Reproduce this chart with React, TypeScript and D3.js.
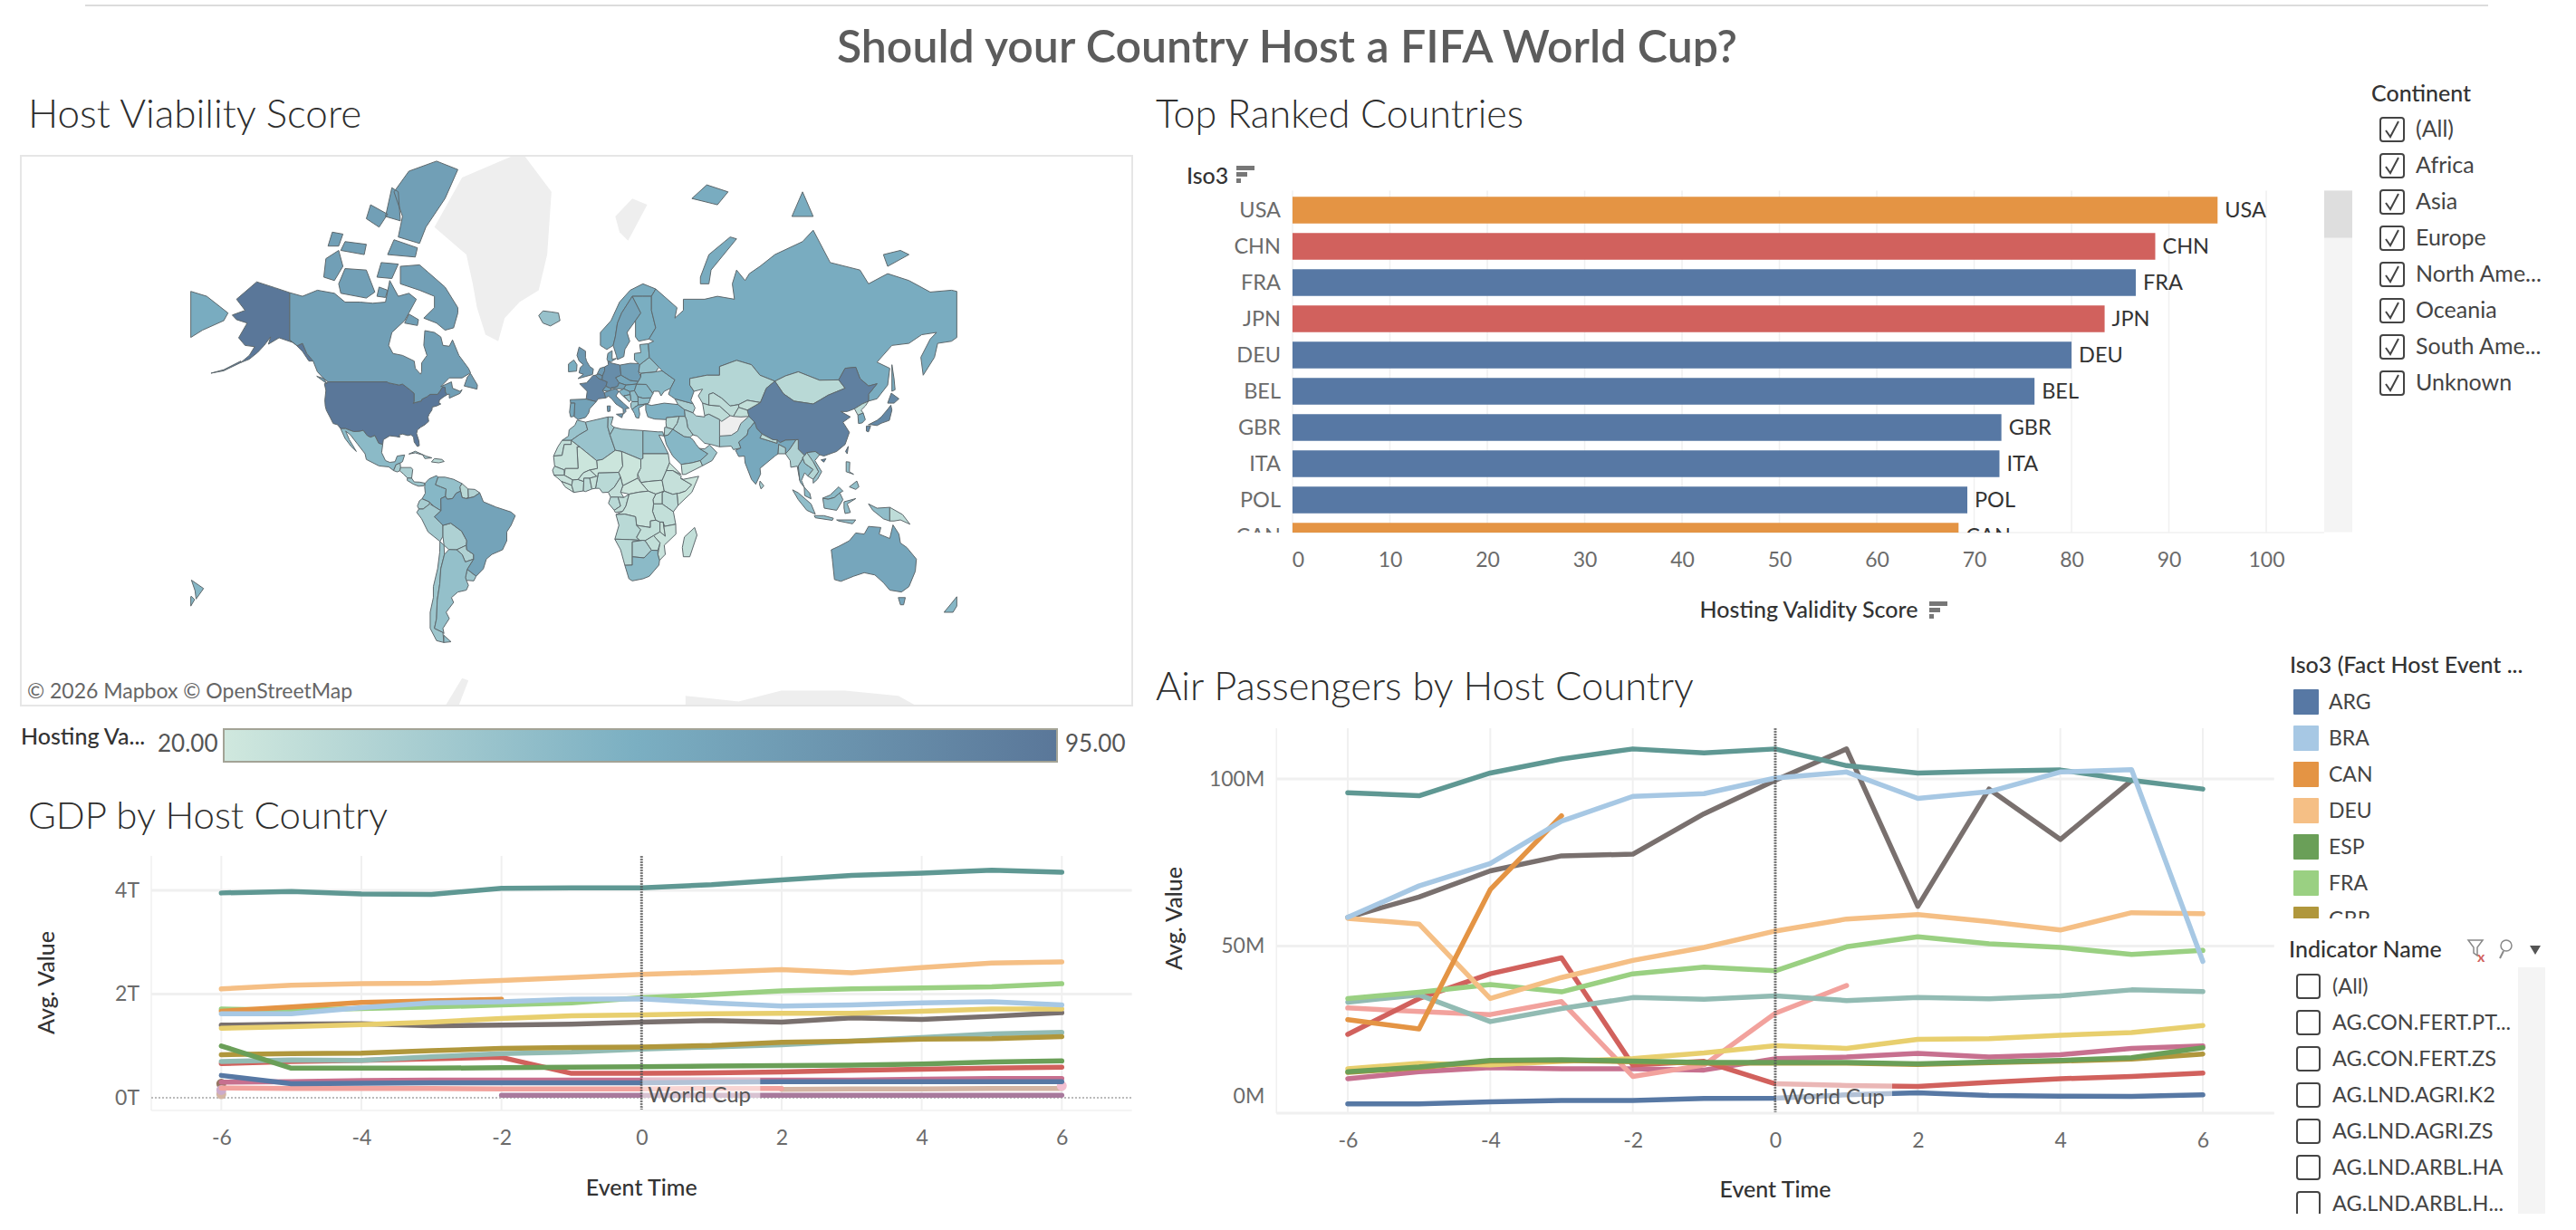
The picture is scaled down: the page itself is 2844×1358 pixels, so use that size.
import { useRef, useEffect } from 'react';
import * as d3 from 'd3';

const FONT = 'Lato, "Open Sans", sans-serif';

// ---- series data (Event Time -6..6) ----
const eventTimes = [-6, -5, -4, -3, -2, -1, 0, 1, 2, 3, 4, 5, 6];
const isoCodes = ['ARG', 'BRA', 'CAN', 'DEU', 'ESP', 'FRA', 'GBR', 'ITA', 'JPN', 'KOR', 'MEX', 'POL', 'RUS', 'ZAF', 'CHE', 'QAT', 'URY', 'CHL', 'SWE'];
const palette = ['#5778a4', '#a7c8e4', '#e49444', '#f5bf85', '#6a9f58', '#9ad082', '#b0973c', '#e8cf6e', '#5f9893', '#92bbb3', '#d1615d', '#f2a29d', '#79706e', '#c7708f', '#f2bfd0', '#a87a9c', '#ccabca', '#967662', '#d4b5a3'];
const _ = null;

const gdpSeries: Record<string, (number | null)[]> = {
  ARG: [0.43, 0.27, 0.28, 0.29, 0.29, 0.29, 0.29, 0.30, 0.31, 0.31, 0.31, 0.31, 0.31],
  BRA: [1.62, 1.62, 1.74, 1.83, 1.85, 1.90, 1.91, 1.83, 1.77, 1.79, 1.83, 1.85, 1.79],
  CAN: [1.67, 1.75, 1.84, 1.87, 1.90, _, _, _, _, _, _, _, _],
  DEU: [2.10, 2.17, 2.20, 2.21, 2.26, 2.32, 2.38, 2.42, 2.47, 2.41, 2.51, 2.60, 2.62],
  ESP: [1.00, 0.57, 0.57, 0.57, 0.58, 0.59, 0.60, 0.61, 0.62, 0.63, 0.65, 0.69, 0.71],
  FRA: [1.71, 1.69, 1.72, 1.75, 1.79, 1.83, 1.93, 1.99, 2.06, 2.10, 2.12, 2.14, 2.20],
  GBR: [0.83, 0.85, 0.86, 0.91, 0.95, 0.97, 0.98, 1.01, 1.07, 1.09, 1.13, 1.14, 1.18],
  ITA: [1.34, 1.37, 1.41, 1.46, 1.53, 1.58, 1.60, 1.62, 1.63, 1.63, 1.67, 1.71, 1.71],
  JPN: [3.95, 3.98, 3.93, 3.92, 4.04, 4.05, 4.05, 4.11, 4.20, 4.29, 4.33, 4.39, 4.35],
  KOR: [0.70, 0.73, 0.72, 0.79, 0.85, 0.88, 0.94, 0.98, 1.02, 1.09, 1.16, 1.23, 1.26],
  MEX: [0.66, 0.70, 0.72, 0.75, 0.78, 0.47, 0.47, 0.48, 0.50, 0.53, 0.55, 0.57, 0.59],
  POL: [0.19, 0.18, 0.18, 0.18, 0.17, 0.17, 0.17, 0.18, 0.18, _, _, _, _],
  RUS: [1.40, 1.42, 1.43, 1.39, 1.40, 1.42, 1.46, 1.49, 1.46, 1.54, 1.51, 1.57, 1.64],
  ZAF: [0.30, 0.31, 0.33, 0.34, 0.34, 0.34, 0.34, 0.34, 0.34, 0.34, 0.36, 0.37, 0.37],
  CHE: [_, _, _, _, _, _, _, _, _, _, _, _, 0.23],
  QAT: [_, _, _, _, 0.05, 0.05, 0.05, 0.05, 0.05, 0.05, 0.05, 0.05, 0.05],
  URY: [0.15, _, _, _, _, _, _, _, _, _, _, _, _],
  CHL: [0.27, _, _, _, _, _, _, _, _, _, _, _, _],
  SWE: [0.07, _, _, _, _, _, _, _, 0.16, 0.17, 0.17, 0.18, 0.18],
};

const airSeries: Record<string, (number | null)[]> = {
  ARG: [2.8, 2.8, 3.4, 3.8, 3.8, 4.4, 4.5, 5.5, 6.1, 5.3, 5.1, 5.0, 5.5],
  BRA: [58.6, 68, 74.7, 87.4, 94.8, 95.6, 100.3, 102.1, 94.2, 96.2, 102.1, 102.8, 45.4],
  CAN: [28, 25.2, 66.9, 89, _, _, _, _, _, _, _, _, _],
  DEU: [58.3, 56.6, 34.3, 40.6, 45.7, 49.6, 54.5, 58.1, 59.4, 57.3, 54.8, 60, 59.7],
  ESP: [12.4, 13.8, 15.8, 16, 15.6, 15.2, 15.2, 15.2, 14.8, 15.3, 15.8, 16.6, 19.6],
  FRA: [34.3, 36.2, 38.5, 36.3, 41.7, 43.7, 42.6, 49.8, 52.8, 50.7, 49.6, 47.5, 48.7],
  GBR: [12.2, 13.6, 15.6, 15.8, 15.4, 15.0, 15.0, 15, 14.6, 15.1, 15.6, 16.2, 17.7],
  ITA: [13.3, 14.9, 14.4, 15.5, 16.3, 18, 20.2, 19.4, 22.1, 22.3, 23.3, 24.1, 26.2],
  JPN: [95.9, 95, 101.8, 106, 109, 107.8, 109, 104, 101.8, 102.3, 102.7, 99.6, 97],
  KOR: [33.2, 35.4, 27.4, 31.3, 34.6, 34.1, 35.1, 33.7, 34.6, 34.2, 35.1, 36.9, 36.4],
  MEX: [23.6, 34.3, 41.7, 46.5, 14.4, 15.5, 8.8, 8.3, 8, 9.2, 10.3, 11, 12],
  POL: [31.5, 30.4, 29.5, 33.4, 11, 14.4, 29.9, 38.2, _, _, _, _, _],
  RUS: [58.6, 64.7, 72.5, 77, 77.5, 89.6, 99.6, 109, 61.9, 97, 81.9, 99.6, _],
  ZAF: [10.3, 12.4, 13.6, 13.3, 13.3, 12.9, 16.3, 16.8, 17.9, 16.8, 17.5, 19.4, 20.1],
};

// ---- bar chart data ----
const barCodes = ['USA', 'CHN', 'FRA', 'JPN', 'DEU', 'BEL', 'GBR', 'ITA', 'POL', 'CAN'];
const barValues = [95, 88.6, 86.6, 83.4, 80, 76.2, 72.8, 72.6, 69.3, 68.4];
const barContinents = ['NA', 'AS', 'EU', 'AS', 'EU', 'EU', 'EU', 'EU', 'EU', 'NA'];
const continentColors: Record<string, string> = { NA: '#e49444', AS: '#d1615d', EU: '#5778a4' };
const barTicks = [0, 10, 20, 30, 40, 50, 60, 70, 80, 90, 100];

// ---- filters and legends ----
const continents = ['(All)', 'Africa', 'Asia', 'Europe', 'North Ame...', 'Oceania', 'South Ame...', 'Unknown'];
const indicators = ['(All)', 'AG.CON.FERT.PT...', 'AG.CON.FERT.ZS', 'AG.LND.AGRI.K2', 'AG.LND.AGRI.ZS', 'AG.LND.ARBL.HA', 'AG.LND.ARBL.H...'];
const legendIso = ['ARG', 'BRA', 'CAN', 'DEU', 'ESP', 'FRA', 'GBR'];

// ---- map data: rough outlines in lon/lat, scores ----
const mapScores: Record<string, number> = {
  USA: 95, ALK: 95, CAN: 68, MEX: 50, GTM: 38, HND: 36, CRI: 42, CUB: 38, HTI: 30, COL: 52, VEN: 46, GUY: 30, SUR: 34, ECU: 38, PER: 40, BOL: 35, PRY: 34, URY: 42, BRA: 65, CHL: 42, ARG: 46,
  ISL: 45, IRL: 58, GBR: 72.8, FRA: 86.6, ESP: 66, PRT: 62, BEL: 76.2, NLD: 72, DEU: 80, DNK: 62, NOR: 60, SWE: 65, FIN: 58, POL: 69.3, CZE: 62, AUT: 66, CHE: 68, ITA: 72.6, HUN: 58, ROU: 52, BGR: 48, HRV: 55, SRB: 48, BIH: 44, ALB: 42, GRC: 55, UKR: 50, BLR: 46, BLT: 52, TUR: 55, RUS: 59,
  KAZ: 32, MNG: 30, CHN: 88.6, TKM: 28, UZB: 28, KGZ: 26, TJK: 26, PAK: 42, IND: 62, NPL: 30, BGD: 36, LKA: 38, MMR: 34, THA: 48, VNM: 44, LAO: 32, MYS: 50, IDN: 48, PNG: 28, PHL: 46, JPN: 83.4, KOR: 62, PRK: 28, IRN: 36, IRQ: 34, SYR: 30, JOR: 34, SAU: 52, YEM: 26, OMN: 42, CAU: 36,
  MAR: 44, ESH: 26, DZA: 44, TUN: 40, LBY: 42, EGY: 46, SDN: 25, SSD: 22, ERI: 22, ETH: 25, SOM: 22, KEN: 28, UGA: 24, TZA: 26, NGA: 30, NER: 22, MLI: 22, MRT: 24, SEN: 26, GIN: 23, SLE: 22, CIV: 26, BFA: 23, GHA: 28, TGO: 24, TCD: 22, CAF: 21, CMR: 25, GAB: 30, COG: 26, COD: 23, AGO: 30, ZMB: 26, MWI: 22, MOZ: 23, ZWE: 26, NAM: 30, BWA: 34, ZAF: 50, MDG: 26, AUS: 63, NZL: 52,
};

const mapShapes: Record<string, number[][][]> = {
  USA: [[[-124.7,48.4],[-123,49],[-95.2,49],[-94.6,48.7],[-89.6,48],[-88,48.3],[-84.5,46.5],[-82.5,45.3],[-82.5,42.5],[-83,42],[-79,42.8],[-79,43.3],[-76.5,44.2],[-75,45],[-71.5,45],[-70.3,46.2],[-69.2,47.4],[-68,47.3],[-67.8,45.7],[-67,44.9],[-69,44],[-70.7,43],[-70.8,42],[-70,41.7],[-72,41],[-74,40.6],[-74.2,39.5],[-75.5,38],[-76,37],[-75.7,35.3],[-77.5,34],[-79.5,33],[-81,32],[-81.4,30.5],[-80.3,27.5],[-80.1,25.5],[-81,25.1],[-82.5,27],[-82.8,29],[-84,30],[-85.5,29.7],[-88,30.3],[-89.5,30],[-89.3,29],[-91,29.3],[-94,29.6],[-97,28],[-97.3,26],[-99.2,26.5],[-101,29.7],[-103,29],[-104.5,29.6],[-106.5,31.8],[-108.2,31.4],[-111,31.3],[-114.8,32.5],[-117.1,32.5],[-118.5,34],[-120.6,34.5],[-122,36.8],[-123.8,39.5],[-124.3,41],[-124.5,43],[-124,46.3]]],
  ALK: [[[-141,69.6],[-141,60.3],[-137.5,58.9],[-135,59.5],[-133,57],[-130,55],[-132,55],[-135,57.5],[-139,59.6],[-146,60.8],[-151,59.3],[-150,61],[-153,59],[-156,57.3],[-160,55.5],[-164,54.6],[-160,56.5],[-157.5,58.7],[-162,59],[-165,60.8],[-161,64],[-166,64.7],[-168,65.6],[-162,66.5],[-166,68.5],[-156.5,71.3],[-148,70.4]],
    [[-164,54.6],[-172,52.3],[-178,51.6],[-172,52.6],[-164,55]]],
  CAN: [[[-141,69.6],[-135,69],[-128,70],[-120,69.5],[-115,68],[-108,68],[-102,67.8],[-96,68],[-94,71.5],[-90,69],[-85,69.5],[-81.5,68.5],[-85,66],[-87,64.5],[-93,62],[-94.5,59],[-92.5,57],[-88,56.5],[-82.5,55],[-82,53],[-79.5,51.3],[-79,52],[-79,54.5],[-76.5,56.5],[-78,59],[-77.5,62.4],[-73,62],[-70,61],[-69,59],[-66,58.8],[-64.5,60.3],[-61.5,56.5],[-57,53],[-56,51.7],[-60,50.2],[-66,50.2],[-70,47.5],[-65,49],[-64.5,47],[-61,46],[-60,46.5],[-61,45.3],[-66,43.7],[-66,45.1],[-67,44.9],[-67.8,45.7],[-68,47.3],[-69.2,47.4],[-70.3,46.2],[-71.5,45],[-75,45],[-76.5,44.2],[-79,43.3],[-79,42.8],[-83,42],[-82.5,42.5],[-82.5,45.3],[-84.5,46.5],[-88,48.3],[-89.6,48],[-94.6,48.7],[-95.2,49],[-123,49],[-125,50],[-128,52],[-130,55],[-133,57],[-135,59.5],[-137.5,58.9],[-141,60.3]],
    [[-62,66],[-64,63],[-68,62.5],[-72,64],[-78,65],[-73,67],[-73,69],[-80,70],[-89,71],[-89,73.5],[-80,73.7],[-76,72.7],[-68,70.5],[-62,67]],
    [[-90,77],[-80,76.3],[-77,78],[-68,80.5],[-62,82.5],[-72,83],[-85,82.4],[-92,81],[-88,79]],
    [[-117,69.5],[-105,68.7],[-101,69.7],[-105,73],[-115,73.2],[-118,71]],
    [[-125,72],[-120,71.5],[-116,73.5],[-118,75.5],[-124,74.5]],
    [[-95,75],[-82,74.7],[-81,75.8],[-92,76.7]],
    [[-117,75.5],[-106,75],[-105,76.2],[-115,76.5]],
    [[-96,79],[-89,78.6],[-90,81],[-93,81.3]],
    [[-59,47.7],[-53,46.7],[-52.8,48],[-56,51.5],[-57.5,50.5]],
    [[-128.3,50.7],[-123.5,48.4],[-125,50]],
    [[-87,64],[-81,63.5],[-80.5,64.7],[-85,65.8]],
    [[-100,72],[-93,71.8],[-90,73.8],[-98,74]],
    [[-123,76],[-118,76],[-116,77.3],[-121,77.5]],
    [[-105,78.8],[-99,78],[-95,79.2],[-103,80]],
    [[-100,69],[-96,68.8],[-95,70],[-99,70.5]]],
  MEX: [[[-117.1,32.5],[-114.8,32.5],[-111,31.3],[-108.2,31.4],[-106.5,31.8],[-104.5,29.6],[-103,29],[-101,29.7],[-99.2,26.5],[-97.3,26],[-97.8,22.5],[-96,19],[-94,18.2],[-91.5,18.5],[-90.5,21],[-87,21.5],[-88,18.5],[-89.1,17.9],[-91,17.2],[-92.2,14.5],[-94.5,16.2],[-99,16.6],[-105,19.5],[-105.6,22],[-109,26],[-112.5,30],[-114.7,31.5],[-113,28],[-109.7,23],[-112,25],[-115,28.5]]],
  GTM: [[[-92.2,14.5],[-91,17.2],[-89.1,17.9],[-88.9,15.9],[-89.3,14.4],[-90.5,13.9]]],
  HND: [[[-89.3,14.4],[-88.9,15.9],[-84,15.9],[-83.2,15],[-83.7,11],[-85.7,11.1],[-87.6,13]]],
  CRI: [[[-85.7,11.1],[-83.7,11],[-82.5,9.3],[-80,9.2],[-77.4,8.7],[-78,7.5],[-80.5,7.3],[-83,8.3],[-85.8,10]]],
  CUB: [[[-85,21.9],[-82,23.1],[-77,21],[-74.2,20.2],[-77.5,19.9],[-78.5,21.5],[-82,22.4]]],
  HTI: [[[-74.4,18.4],[-73,19.9],[-69.5,19.5],[-68.4,18.6],[-71,18]]],
  COL: [[[-77.4,8.7],[-75.5,10.7],[-72,12.2],[-71.3,11.5],[-72.5,8],[-70,7],[-67.5,6],[-67.8,2.5],[-70,1.5],[-69.9,-4.2],[-72.9,-2.4],[-75.5,0],[-78.8,1.4],[-77.3,4],[-77.6,7]]],
  VEN: [[[-71.3,11.5],[-68,11.5],[-64,10.5],[-60,8.5],[-61,7],[-60.7,5],[-62.8,4],[-64.5,1.5],[-67,1.2],[-67.8,2.5],[-67.5,6],[-70,7],[-72.5,8]]],
  GUY: [[[-60,8.5],[-57.2,6],[-57,2],[-58,1.5],[-60,2],[-60.7,5],[-61,7]]],
  SUR: [[[-57.2,6],[-54,5.8],[-51.7,4.2],[-54.5,2.3],[-58,1.5],[-57,2]]],
  ECU: [[[-78.8,1.4],[-75.5,0],[-75.2,-1],[-78.3,-3.4],[-80.3,-3.4],[-81,-2],[-80,0.5]]],
  PER: [[[-80.3,-3.4],[-78.3,-3.4],[-75.2,-1],[-72.9,-2.4],[-69.9,-4.2],[-73,-7],[-70.5,-9.5],[-69,-11],[-69,-16],[-70.4,-18.3],[-76,-14],[-79,-8],[-81.3,-5]]],
  BOL: [[[-69,-11],[-65.3,-10],[-60.2,-13.7],[-57.8,-18],[-58,-20],[-62.6,-22],[-66.2,-21.9],[-68.5,-20],[-69,-16]]],
  PRY: [[[-62.6,-22],[-58,-20],[-57.8,-22],[-54.6,-24],[-54.6,-26],[-58.5,-27.2],[-60,-24]]],
  URY: [[[-58.4,-33.5],[-57.6,-30.2],[-53.4,-33],[-54.5,-34.8],[-58,-34.6]]],
  BRA: [[[-51.7,4.2],[-50,0],[-44,-2.5],[-37,-4.8],[-35,-6.5],[-37,-11],[-39,-14],[-39,-18],[-41,-22],[-46,-24],[-48.6,-26],[-50,-30],[-53.4,-33],[-57.6,-30.2],[-54.6,-26],[-54.6,-24],[-57.8,-22],[-58,-20],[-57.8,-18],[-60.2,-13.7],[-65.3,-10],[-69,-11],[-70.5,-9.5],[-73,-7],[-69.9,-4.2],[-70,1.5],[-67.8,2.5],[-67,1.2],[-64.5,1.5],[-62.8,4],[-60.7,5],[-60,2],[-58,1.5],[-54.5,2.3]]],
  CHL: [[[-70.4,-18.3],[-68.5,-20],[-68.3,-24],[-70,-30],[-70.5,-36],[-71.7,-42],[-72,-48],[-73,-51],[-69,-52.2],[-68.6,-55],[-72,-54.5],[-75,-51],[-75,-46],[-73.5,-41],[-73.5,-37],[-71.5,-30],[-70.5,-23]]],
  ARG: [[[-66.2,-21.9],[-62.6,-22],[-60,-24],[-58.5,-27.2],[-54.6,-26],[-57.6,-30.2],[-58.4,-33.5],[-58,-34.6],[-57,-36.5],[-58,-38.3],[-62,-39],[-65,-41],[-64,-42.7],[-67.5,-46],[-66,-48],[-69,-51],[-68.5,-52.5],[-69,-52.2],[-73,-51],[-72,-48],[-71.7,-42],[-70.5,-36],[-70,-30],[-68.3,-24]],
    [[-68.6,-53],[-65.2,-54.8],[-68.6,-55]]],
  ISL: [[[-24,65.5],[-22,64],[-18.5,63.4],[-14,64.5],[-14.7,66],[-18,66.2],[-22,66.4]]],
  IRL: [[[-10,52],[-6.2,52.2],[-6,54],[-7.5,55.3],[-10,54.2]]],
  GBR: [[[-5.5,50],[1.3,51.2],[1.7,52.8],[0,53.5],[-1.5,55],[-2,56],[-2,57.6],[-5,58.6],[-6,56.5],[-5,55],[-3,54],[-4.5,53.2],[-5,51.7],[-3,51.3]]],
  FRA: [[[-4.7,48.4],[-1.5,48.7],[1.5,50.9],[2.6,51],[4.2,50],[5.8,49.6],[8.2,49],[7.6,47.6],[6,46.3],[6.8,45.5],[7.5,43.8],[4,43.5],[3,42.5],[-1.7,43.4],[-1.2,46]]],
  ESP: [[[-9.2,43.2],[-1.7,43.4],[3,42.5],[0,40],[-0.5,38.5],[-2,36.8],[-5.5,36],[-7.4,37.2],[-7,42],[-9,42]]],
  PRT: [[[-9,42],[-7,42],[-7.4,37.2],[-9,37],[-9.5,38.8]]],
  BEL: [[[2.6,51],[4.2,51.4],[6,50.8],[5.8,49.6],[4.2,50]]],
  NLD: [[[3.5,51.4],[4.2,51.4],[6,50.8],[7,52.3],[7,53.4],[4.8,53]]],
  DEU: [[[6,50.8],[7,52.3],[7,53.4],[8.8,54],[8.5,55],[10,54.5],[14.2,53.9],[14.7,51],[12.2,50.3],[13.8,48.7],[13,47.5],[9.6,47],[7.6,47.6],[8.2,49],[5.8,49.6]]],
  DNK: [[[8.1,55.5],[8.5,57],[10.5,57.7],[10.5,55.5],[12.5,55.7],[10,54.8],[8.5,55]]],
  NOR: [[[5,59],[5,62],[10,64.5],[14,68],[19,70],[25,71],[31,70.2],[29,69],[25,69],[20,69],[15,66],[13,64],[12,61],[11,59],[8,58]]],
  SWE: [[[11,59],[12,61],[13,64],[15,66],[20,69],[24,66],[21.5,64.5],[17.5,62],[18.8,60],[16.5,58],[16,56.2],[13,55.4],[12.5,56.5]]],
  FIN: [[[20,69],[25,69],[29,69],[29,66.5],[31,63],[27.8,60.5],[23,60],[21.5,61],[21.5,64.5],[24,66]]],
  POL: [[[14.2,53.9],[19,54.4],[23,54.3],[23.5,54],[23,52],[24,50.5],[22.8,49.1],[19,49.4],[14.7,51]]],
  CZE: [[[12.2,50.3],[14.7,51],[19,49.4],[22.8,49.1],[22,48.3],[17,48],[13.8,48.7]]],
  AUT: [[[13,47.5],[13.8,48.7],[17,48],[16,46.8],[12,46.8],[9.6,47]]],
  CHE: [[[6,46.3],[7.6,47.6],[9.6,47],[10.4,46.5],[8.5,46]]],
  ITA: [[[6.8,45.5],[8.5,46],[10.4,46.5],[12,46.8],[13.7,46],[12.3,44.5],[13.6,43.5],[16,41.9],[18.5,40.2],[16.8,40],[17,39],[15.8,38],[15.7,40],[12.3,41.7],[10.3,43.5],[8.8,44.4],[7.5,43.8]],
    [[12.5,38],[15.6,38.2],[15.1,36.7]],
    [[8.2,41],[9.7,41],[9.5,39.1],[8.4,39]]],
  HUN: [[[16,46.8],[17,48],[22,48.3],[21,46.2],[18.8,45.9]]],
  ROU: [[[22,48.3],[26.6,48.2],[29.7,45.3],[28.6,43.8],[25,43.7],[22.6,44.2],[21,46.2]]],
  BGR: [[[22.6,44.2],[25,43.7],[28.6,43.8],[27.7,42],[26.3,41.7],[22.7,41.3],[22.7,42.5]]],
  HRV: [[[13.7,46],[16,46.8],[18.8,45.9],[19,44.9],[16,44.5],[18.5,42.5],[14.5,45.2]]],
  SRB: [[[18.8,45.9],[21,46.2],[22.6,44.2],[22.7,42.5],[20,42.5],[19.3,43],[19,44.9]]],
  BIH: [[[16,44.5],[19,44.9],[19.3,43],[18.5,42.5]]],
  ALB: [[[19.3,42],[20,42.5],[22.7,42.5],[22.7,41.3],[21,40.5],[20,39.7],[19.4,40.5]]],
  GRC: [[[20,39.7],[21,40.5],[22.7,41.3],[26.3,41.7],[24,40.7],[23,40.3],[23.5,38],[23,36.5],[21.7,36.8],[21,38.3]]],
  UKR: [[[22,48.3],[22.8,49.1],[24,50.5],[24,51.6],[31,52],[34,52.3],[40,49.6],[38,47],[35,46],[33.5,44.5],[32.5,46],[30,46],[29.7,45.3],[26.6,48.2]]],
  BLR: [[[23,52],[24,51.6],[31,52],[32.5,53.3],[28,56],[23.5,54]]],
  BLT: [[[21,55.3],[23,54.3],[23.5,54],[28,56],[27.5,59.4],[23.5,59.2],[24,57.2],[21,57]]],
  TUR: [[[26.3,41.7],[29,41.2],[35,42],[41.5,41.5],[44.5,39.7],[44.8,37.2],[42,37.2],[36,36.7],[36,36],[30.5,36.2],[27.3,37],[26.3,39.5]]],
  CAU: [[[40,43.5],[45,42.5],[48.5,41.8],[49.5,40.3],[48.5,38.5],[44.5,39.7],[41.5,41.5]]],
  RUS: [[[28,56],[27.5,59.4],[30,60],[27.8,60.5],[31,63],[29,66.5],[29,69],[31,70.2],[41,67],[40,65],[44,66.5],[44,68.5],[54,68.5],[60,69],[68,68.5],[67,71],[69,73],[73,71.5],[75,72.5],[80,73.5],[87,75],[100,76.5],[105,77.7],[113,74],[127,73],[131,71],[140,72.5],[150,71.5],[160,69.7],[170,70],[180,69],[-170,66],[-172,64.5],[178,62.5],[170,60],[163.5,59.5],[162,56],[156.7,51],[155.6,56],[160,60.5],[163,62],[156,61.5],[150,59.5],[142,59],[135,54.7],[141,53],[140,48],[135,43.5],[131,42.7],[131,45],[135,48.4],[131,47.7],[127,50],[125,53.3],[120,53],[117,49.6],[108,49.5],[98,52],[92,50.8],[87,49.2],[80,51],[76,54],[69,55.2],[61,53.5],[61,51],[55,51],[47,50],[47,48],[49,46],[47.5,43],[48.5,41.8],[45,42.5],[40,43.5],[37,45],[38,47],[40,49.6],[34,52.3],[32.5,53.3]],
    [[142,54],[143,50],[143.5,46.5],[142,46],[142,50]],
    [[52,71],[56,71],[57,73],[69,76.8],[66,77],[56,75],[52,72]],
    [[48,80.5],[60,80],[65,81],[55,81.5]],
    [[95,79],[105,79],[100,81]],
    [[138,75],[146,75.5],[150,75],[140,73.5]]],
  KAZ: [[[47,48],[47,50],[55,51],[61,51],[61,53.5],[69,55.2],[76,54],[80,51],[87,49.2],[83,47],[80.2,42.2],[74,43],[70,41.5],[66,41],[62,43.7],[58,45.5],[56,45],[56,41.3],[53,42],[51,44.5],[53,46.7],[49,46]]],
  MNG: [[[87,49.2],[92,50.8],[98,52],[108,49.5],[117,49.6],[120,47],[112,44.7],[105,41.7],[96,42.7],[91,45.2]]],
  CHN: [[[80.2,42.2],[83,47],[87,49.2],[91,45.2],[96,42.7],[105,41.7],[112,44.7],[120,47],[117,49.6],[120,53],[125,53.3],[127,50],[131,47.7],[135,48.4],[131,45],[131,42.7],[128,41.7],[124.4,40],[121,39],[118,39],[122.5,37],[119,35],[122,31],[120,26],[116,23],[110,21],[108,21.6],[106,23],[102,22.5],[101,21.2],[98,24],[98,28],[92,27.8],[89.5,26.8],[88,27.9],[86,28],[81,30.3],[78.5,32.5],[74.8,37],[74,39.5]],
    [[108.7,19.3],[111,19.8],[110,18.3]],
    [[120.2,23],[121.5,25.2],[121,22]]],
  TKM: [[[53,42],[56,41.3],[61,41],[66,37.5],[62,35.3],[61,36],[56,38],[54,37.5]]],
  UZB: [[[56,41.3],[56,45],[58,45.5],[62,43.7],[66,41],[70,41.5],[70,40.5],[67.5,37.2],[66,37.5],[61,41]]],
  KGZ: [[[70,41.5],[74,43],[80.2,42.2],[74,39.5],[70,40.5]]],
  TJK: [[[67.5,37.2],[70,40.5],[74,39.5],[74.8,37.2],[71,37]]],
  PAK: [[[61,25],[61,29.5],[66.5,29.8],[69.5,31.5],[71,34.5],[74.8,37.2],[77.5,35],[74.5,32],[74,30],[70,27],[71,24.5],[67.5,23.8],[66.5,25.3]]],
  IND: [[[77.5,35],[78.5,32.5],[81,30.3],[80,28.7],[88,26.5],[88,27.9],[89.5,26.8],[92,27.8],[97,28],[94,24],[92,22],[92,24.5],[88.8,26],[88.5,22],[87,21],[80,15.5],[80.3,13],[78,8.2],[76,10.5],[73,18],[72.7,21],[70,20.8],[68.5,23.5],[71,24.5],[70,27],[74,30],[74.5,32]]],
  NPL: [[[80,28.7],[81,30.3],[86,28],[88,27.9],[88,26.5]]],
  BGD: [[[88.5,22],[88.8,26],[92,24.5],[92,22]]],
  LKA: [[[80,9.7],[81.8,7.5],[80.5,6],[79.8,8]]],
  MMR: [[[92,22],[94,24],[97,28],[98,28],[98,24],[101,21.2],[98,16.5],[98.7,10],[97.5,16.5],[94.5,16],[94.2,19]]],
  THA: [[[101,21.2],[98,16.5],[98.7,10],[99,9],[100.8,6.8],[99.5,10],[101,13.5],[102.5,12],[105,15],[101,17.8],[100,20.4]]],
  VNM: [[[102,22.5],[106,23],[108,21.6],[105.8,19],[109,14],[107,10.5],[105,8.7],[105,10.5],[107.5,14],[105,18.5],[101.5,21.2]]],
  LAO: [[[102,22.5],[105,18.5],[107.5,14],[105,10.5],[102.5,12],[105,15],[101,17.8],[100,20.4],[101,21.2]]],
  MYS: [[[100.8,6.8],[103.4,4],[104,1.4],[101,2.9]],
    [[109.5,1.7],[113,3.2],[117,7],[119,5],[117.5,4.2],[115,2],[112,1.2]]],
  IDN: [[[109.5,1.7],[112,1.2],[115,2],[117.5,4.2],[119,1],[116,-4],[110.2,-3]],
    [[95.3,5.6],[98,4.2],[104,-1],[106,-5.8],[102,-4],[98,1]],
    [[105.5,-6.5],[110,-6.5],[114.5,-7.7],[114,-8.7],[106,-7.5]],
    [[119.5,0],[125,1.5],[121,-1],[122.5,-5],[120,-5.5],[119.5,-3]],
    [[131,-1],[135,-3],[141,-2.6],[141,-9],[138,-8],[133,-4]],
    [[116,-8.5],[125,-8.5],[123.5,-10.3],[117,-9]]],
  PNG: [[[141,-2.6],[147,-6],[150.5,-10.5],[146,-8.5],[143,-9],[141,-9]]],
  PHL: [[[120.5,18.5],[122.2,18.3],[122,14],[124,12.8],[120.5,14]],
    [[122,7],[125.5,9.7],[126.5,7],[125,5.8]]],
  JPN: [[[130.9,34],[135,35.7],[137,37],[140,39.8],[141.5,41.3],[142,39.5],[140.8,35.7],[137,34.6],[135,33.7],[132.5,34]],
    [[140,42],[141.7,45.4],[145.3,43.5],[143,42]],
    [[130,33.5],[132,33.5],[131,31.2],[130,31.5]]],
  KOR: [[[126,37.7],[128.5,38.5],[129.5,36],[128,34.7],[126.3,34.5]]],
  PRK: [[[124.4,40],[128,41.7],[131,42.7],[129.5,41],[127.5,39.5],[128.5,38.5],[126,37.7]]],
  IRN: [[[44.8,37.2],[44.5,39.7],[48.5,38.5],[50,37.4],[54,37],[54,37.5],[56,38],[61,36],[61,29.5],[61,25],[57,26],[54,26.5],[50.5,29.5],[48.5,30],[46,33],[45.5,35.8]]],
  IRQ: [[[42,37.2],[44.8,37.2],[45.5,35.8],[46,33],[48.5,30],[47,29],[44.5,29.2],[39,32.2],[41,34.5]]],
  SYR: [[[36,36.7],[42,37.2],[41,34.5],[39,32.2],[36,33],[35.8,35]]],
  JOR: [[[35,29.5],[35.2,33],[36,33],[39,32.2],[37,30]]],
  SAU: [[[35,29.5],[37,30],[39,32.2],[44.5,29.2],[47,29],[48.5,28],[50,26],[51.5,24.3],[55.5,22],[52,19],[48,18],[43,17.3],[39,21],[36,26]]],
  YEM: [[[43,17.3],[48,18],[52,19],[53,16.7],[45,12.8],[43.5,12.7]]],
  OMN: [[[51.5,24.3],[54,24.1],[56.3,25.8],[59.8,22.5],[57.5,19],[53,16.7],[52,19],[55.5,22]]],
  MAR: [[[-5.9,35.8],[-2,35],[-1,32],[-5,30],[-8.7,27.7],[-13,27.7],[-10,29.5],[-9.7,32],[-7,33.8]]],
  ESH: [[[-13,27.7],[-8.7,27.7],[-8.7,26],[-12,26],[-13,21.3],[-17,21],[-15,25]]],
  DZA: [[[-2,35],[8.6,37],[8.5,33],[9.5,30],[12,23.5],[6,19.5],[3.2,19],[-4.8,25],[-8.7,27.7],[-5,30],[-1,32]]],
  TUN: [[[8.6,37],[11,37],[10,34],[11.5,33],[9.5,30],[8.5,33]]],
  LBY: [[[11.5,33],[15,32.3],[20,32],[25,31.7],[25,20],[24,19.5],[15,23],[12,23.5],[9.5,30]]],
  EGY: [[[25,31.7],[32,31.2],[34.3,31.2],[34.8,29.5],[32.5,29.9],[36.9,22],[25,22]]],
  SDN: [[[25,22],[36.9,22],[37.5,18],[36,14.5],[34,10],[33,10],[27.5,9.5],[24,9],[22.5,13],[24,15.7],[24,19.5],[25,20]]],
  SSD: [[[27.5,9.5],[33,10],[34,10],[35,5],[31,3.6],[27.5,5],[24,9]]],
  ERI: [[[36,14.5],[37.5,18],[43,12.7],[39,14.5]]],
  ETH: [[[34,10],[36,14.5],[39,14.5],[43,12],[42.8,10.9],[47.9,8],[45,5],[42,4],[39,3.5],[35,5]]],
  SOM: [[[42.8,10.9],[44,10.5],[51.2,11.9],[48,4.5],[41.5,-1.7],[41,3.9],[42,4],[45,5],[47.9,8]]],
  KEN: [[[35,5],[39,3.5],[41,3.9],[41.5,-1.7],[39.3,-4.7],[34,-1],[34,4.2]]],
  UGA: [[[31,3.6],[35,5],[34,4.2],[34,-1],[30,-1],[29.7,1]]],
  TZA: [[[30,-1],[34,-1],[39.3,-4.7],[40.4,-10.5],[35,-11.5],[34.5,-9.5],[33,-9.5],[31,-8.6],[29.5,-4.5]]],
  NGA: [[[2.7,6.3],[3.7,11.7],[4,13.5],[13.6,13.7],[14.5,11.5],[11.5,6.8],[8.7,4.5],[6,4.3],[4.5,6.3]]],
  NER: [[[0,14.8],[3.2,11.9],[3.7,11.7],[4,13.5],[13.6,13.7],[15.5,16.5],[15,23],[12,23.5],[6,19.5],[3.2,19],[3.6,15.5]]],
  MLI: [[[-4.8,25],[3.2,19],[3.6,15.5],[0,14.8],[-3,13.5],[-5.5,10.4],[-8,10.2],[-12,12.4],[-11.5,15.5],[-5.5,15.5],[-6,25]]],
  MRT: [[[-17,21],[-13,21.3],[-12,26],[-8.7,26],[-8.7,27.7],[-4.8,25],[-6,25],[-5.5,15.5],[-11.5,15.5],[-12,14.8],[-16.5,16.5]]],
  SEN: [[[-16.5,16.5],[-12,14.8],[-12,12.4],[-16.8,12.4],[-17.5,14.7]]],
  GIN: [[[-16.8,12.4],[-12,12.4],[-8,10.2],[-8.5,7.7],[-10.5,8.5],[-13.3,9.5],[-15,11]]],
  SLE: [[[-13.3,9.5],[-10.5,8.5],[-8.5,7.7],[-7.5,4.4],[-11.5,6.9]]],
  CIV: [[[-8.5,7.7],[-8,10.2],[-5.5,10.4],[-2.8,9.5],[-3,5.1],[-7.5,4.4]]],
  BFA: [[[-5.5,10.4],[-3,13.5],[0,14.8],[3.2,11.9],[0,11],[-2.8,11],[-2.8,9.5]]],
  GHA: [[[-2.8,11],[0,11],[1,6],[-2,4.8],[-3,5.1],[-2.8,9.5]]],
  TGO: [[[0,11],[3.2,11.9],[3.7,11.7],[2.7,6.3],[1,6]]],
  TCD: [[[15.5,16.5],[13.6,13.7],[14.5,11.5],[15.5,7.5],[22.5,11],[22.5,13],[24,15.7],[24,19.5],[15,23]]],
  CAF: [[[15.5,7.5],[14.5,4.5],[18.5,3.6],[23,4.5],[27.5,5],[24,9],[22.5,11]]],
  CMR: [[[8.7,4.5],[11.5,6.8],[14.5,11.5],[15.5,7.5],[14.5,4.5],[16,2],[9.8,2.2]]],
  GAB: [[[9.8,2.2],[13.3,2.2],[14.5,-2],[11.5,-4],[8.8,-0.7]]],
  COG: [[[13.3,2.2],[16,2],[18.5,3.6],[17,-2],[15.5,-4.5],[12,-5],[11.5,-4],[14.5,-2]]],
  COD: [[[18.5,3.6],[23,4.5],[27.5,5],[31,3.6],[29.7,1],[30,-1],[29.5,-4.5],[31,-8.6],[28.5,-9],[28.5,-12],[22,-11],[21.5,-7],[16.5,-5.8],[12.3,-6],[15.5,-4.5],[17,-2]]],
  AGO: [[[12.3,-6],[16.5,-5.8],[21.5,-7],[22,-11],[24,-13],[22,-16.5],[23.5,-17.8],[19,-17.5],[11.8,-17.3],[13.7,-11]]],
  ZMB: [[[22,-11],[28.5,-12],[28.5,-9],[31,-8.6],[33,-9.5],[33,-14],[30,-15.7],[26,-18],[23.5,-17.8],[22,-16.5],[24,-13]]],
  MWI: [[[33,-9.5],[34.5,-9.5],[35.5,-16],[33,-14]]],
  MOZ: [[[35,-11.5],[40.4,-10.5],[40.5,-15],[35,-20],[35.5,-24],[32.8,-26.5],[32,-24],[33,-19],[30,-15.7],[33,-14],[35.5,-16],[34.5,-9.5]]],
  ZWE: [[[26,-18],[30,-15.7],[33,-19],[32,-22.3],[29,-22.2]]],
  NAM: [[[11.8,-17.3],[19,-17.5],[23.5,-17.8],[25,-17.8],[20,-18.5],[20,-28.5],[16.5,-28.6],[14.5,-22]]],
  BWA: [[[20,-18.5],[25,-17.8],[26,-18],[29,-22.2],[25.5,-25.5],[20,-25]]],
  ZAF: [[[16.5,-28.6],[20,-28.5],[20,-25],[25.5,-25.5],[29,-22.2],[32,-22.3],[32,-24],[32.8,-26.5],[32.5,-28.5],[28,-33],[25,-34],[20,-34.8],[18.4,-34]]],
  MDG: [[[49.3,-12],[50.4,-15.5],[47,-25],[44,-25],[43.5,-21],[44.5,-16.3]]],
  AUS: [[[113.5,-22],[114,-26],[115,-34.3],[118,-35],[124,-33],[129,-31.6],[134,-32.5],[138,-35.5],[141,-38.3],[146.5,-39],[150,-37],[153,-31],[153.5,-26],[149,-21],[146,-19],[145.3,-15],[142.5,-10.8],[141,-17],[136,-15],[136.8,-12],[131,-11.5],[129,-15],[125,-14.5],[122,-18],[117,-20.5]],
    [[145,-41],[148.3,-41],[147.5,-43.5],[146,-43.5]]],
  NZL: [[[172.8,-34.5],[178.5,-37.7],[175,-41.5],[174.5,-38.5]],
    [[172.7,-40.5],[174.3,-41.7],[170.7,-46],[166.5,-46],[170,-43]]],
};

// no score: drawn as pale base land
const noDataShapes: number[][][] = [
  [[-73,78],[-60,82],[-32,83.5],[-18,81],[-20,75],[-24,70],[-33,68],[-40,65],[-43,60],[-49,61.5],[-53,67],[-55,71],[-58,75]],
  [[12,79],[20,80.5],[27,80],[18,76.6],[14,77.5]],
  [[61,36],[62,35.3],[66,37.5],[67.5,37.2],[71,37],[74.8,37.2],[71,34.5],[69.5,31.5],[66.5,29.8],[61,29.5]],
  [[-60,-63.5],[-57,-64],[-63,-70],[-70,-70]],
  [[45,-67],[70,-68],[90,-66],[120,-66],[145,-67],[160,-70],[160,-80],[45,-80]],
];

const scoreStops = [20, 57, 95];
const scoreColors = ['#d0e8de', '#7bafc2', '#5a7799'];

function polygonFeature(rings: number[][][]) {
  const f: any = { type: 'MultiPolygon', coordinates: rings.map(r => [[...r, r[0]]]) };
  f.coordinates = f.coordinates.map((poly: number[][][]) => {
    const one = { type: 'Polygon', coordinates: poly } as any;
    return d3.geoArea(one) > 2 * Math.PI ? [[...poly[0]].reverse()] : poly;
  });
  return f;
}

function addText(g: any, x: number, y: number, s: string, size: number, color: string, weight = 400, anchor = 'start') {
  return g.append('text').attr('x', x).attr('y', y).text(s)
    .attr('font-family', FONT).attr('font-size', size).attr('fill', color)
    .attr('font-weight', weight).attr('text-anchor', anchor);
}

function drawLines(svg: any, id: string, series: Record<string, (number | null)[]>, opts: any) {
  const { left, right, top, bottom, domain, yTicks, yFormat, zeroDotted, labelX, labelY, titleX, titleY, titleSize, eventY, wcBox, wcText, y0Lift } = opts;
  const g = svg.append('g');
  const x = d3.scaleLinear().domain([-7, 7]).range([left, right]);
  const y = d3.scaleLinear().domain(domain).range([bottom, top]);
  const color = d3.scaleOrdinal<string, string>(isoCodes, palette);

  g.selectAll('.vg').data([-6, -4, -2, 0, 2, 4, 6]).enter().append('line')
    .attr('x1', (d: number) => x(d)).attr('x2', (d: number) => x(d))
    .attr('y1', top).attr('y2', bottom).attr('stroke', '#f0f0f0').attr('stroke-width', 2);
  g.selectAll('.hg').data(yTicks.filter((d: number) => d !== 0 || !zeroDotted)).enter().append('line')
    .attr('x1', left).attr('x2', right).attr('y1', (d: number) => y(d)).attr('y2', (d: number) => y(d))
    .attr('stroke', '#f0f0f0').attr('stroke-width', 3);
  g.append('line').attr('x1', left).attr('x2', right).attr('y1', bottom).attr('y2', bottom)
    .attr('stroke', '#f0f0f0').attr('stroke-width', 1.5);
  g.append('line').attr('x1', left).attr('x2', left).attr('y1', top).attr('y2', bottom)
    .attr('stroke', '#f0f0f0').attr('stroke-width', 1.5);
  if (zeroDotted) {
    g.append('line').attr('x1', left).attr('x2', right).attr('y1', y(0)).attr('y2', y(0))
      .attr('stroke', '#bbbbbb').attr('stroke-width', 2).attr('stroke-dasharray', '2 2');
  }

  const xAxis = g.append('g').attr('transform', `translate(0,${bottom})`)
    .call(d3.axisBottom(x).tickValues([-6, -4, -2, 0, 2, 4, 6]).tickSize(0).tickPadding(22).tickFormat((d: any) => String(d)));
  const yAxis = g.append('g').attr('transform', `translate(${left},0)`)
    .call(d3.axisLeft(y).tickValues(yTicks).tickSize(0).tickPadding(13).tickFormat(yFormat));
  [xAxis, yAxis].forEach(a => {
    a.select('.domain').remove();
    a.selectAll('text').attr('font-family', FONT).attr('font-size', 23).attr('fill', '#6b6b6b');
  });
  if (y0Lift) yAxis.selectAll('.tick').filter((d: number) => d === 0).select('text').attr('dy', `${-y0Lift + 8}px`);

  const line = d3.line<number | null>()
    .defined(d => d !== null)
    .x((_d, i) => x(eventTimes[i]))
    .y(d => y(d as number));

  // series drawn last legend entry first, so ARG ends on top
  [...Object.keys(series)].reverse().forEach(code => {
    const vals = series[code];
    g.append('path').attr('d', line(vals)).attr('fill', 'none').attr('stroke', color(code))
      .attr('stroke-width', 5.5).attr('stroke-linecap', 'round').attr('stroke-linejoin', 'round');
    vals.forEach((v, i) => {
      if (v === null) return;
      const alone = (i === 0 || vals[i - 1] === null) && (i === vals.length - 1 || vals[i + 1] === null);
      if (alone) g.append('circle').attr('cx', x(eventTimes[i])).attr('cy', y(v)).attr('r', 5.5).attr('fill', color(code));
    });
  });

  g.append('line').attr('x1', x(0)).attr('x2', x(0)).attr('y1', top).attr('y2', bottom - 1)
    .attr('stroke', '#555').attr('stroke-width', 3).attr('stroke-dasharray', '2 1').attr('opacity', 0.75);
  g.append('rect').attr('x', x(0) + 1).attr('y', wcBox[0]).attr('width', wcBox[1]).attr('height', wcBox[2])
    .attr('fill', '#fff').attr('opacity', 0.55);
  addText(g, x(0) + 7, wcText, 'World Cup', 24, '#555');

  addText(g, (left + right) / 2, eventY, 'Event Time', 25, '#333', 500, 'middle');
  g.append('text').attr('transform', `translate(${labelX},${labelY}) rotate(-90)`).text('Avg. Value')
    .attr('font-family', FONT).attr('font-size', 25).attr('font-weight', 500).attr('fill', '#333').attr('text-anchor', 'middle');
  addText(g, titleX, titleY, id, titleSize, '#2e2e2e', 300);
}

function drawMap(svg: any) {
  const g = svg.append('g');
  g.append('rect').attr('x', 23).attr('y', 172).attr('width', 1227).attr('height', 607)
    .attr('fill', '#fff').attr('stroke', '#e6e6e6').attr('stroke-width', 2);
  svg.append('clipPath').attr('id', 'mapclip').append('rect').attr('x', 24).attr('y', 173).attr('width', 1225).attr('height', 605);
  const map = g.append('g').attr('clip-path', 'url(#mapclip)');

  const projection = d3.geoMercator().rotate([7.5, 0]).scale(134.6).translate([633.5, 554]).precision(0);
  const path = d3.geoPath(projection);
  const color = d3.scaleLinear<string>().domain(scoreStops).range(scoreColors).clamp(true);

  map.selectAll('.nodata').data(noDataShapes.map(r => polygonFeature([r]))).enter().append('path')
    .attr('d', path as any).attr('fill', '#eeeeee').attr('stroke', 'none');
  map.selectAll('.country').data(Object.keys(mapShapes)).enter().append('path')
    .attr('d', (k: string) => path(polygonFeature(mapShapes[k])))
    .attr('fill', (k: string) => color(mapScores[k]))
    .attr('stroke', '#5e686c').attr('stroke-width', 1).attr('stroke-linejoin', 'round');

  map.append('rect').attr('x', 24).attr('y', 748).attr('width', 367).attr('height', 30).attr('fill', '#fff').attr('opacity', 0.8);
  addText(map, 30, 771, '© 2026 Mapbox  © OpenStreetMap', 23, '#666');

  // colour legend
  const defs = svg.append('defs');
  const grad = defs.append('linearGradient').attr('id', 'ramp');
  const pos = d3.scaleLinear().domain([20, 95]).range([0, 100]);
  scoreStops.forEach((s, i) => grad.append('stop').attr('offset', `${pos(s)}%`).attr('stop-color', scoreColors[i]));
  g.append('rect').attr('x', 247).attr('y', 805).attr('width', 920).attr('height', 36)
    .attr('fill', 'url(#ramp)').attr('stroke', '#a3a396').attr('stroke-width', 2);
  addText(g, 23, 822, 'Hosting Va...', 25, '#333', 500);
  addText(g, 174, 830, '20.00', 26, '#555');
  addText(g, 1176, 830, '95.00', 26, '#555');
}

function drawBars(svg: any) {
  const g = svg.append('g');
  const left = 1427, right = 2566, top = 210.5, bottom = 588;
  const x = d3.scaleLinear().domain([0, 105.95]).range([left, right]);
  const y = d3.scaleBand<string>().domain(barCodes).range([top + 1.5, top + 1.5 + 40 * barCodes.length]).paddingInner(10.5 / 40).paddingOuter(5.25 / 40);

  g.selectAll('.grid').data(barTicks).enter().append('line')
    .attr('x1', (d: number) => x(d)).attr('x2', (d: number) => x(d)).attr('y1', top).attr('y2', bottom)
    .attr('stroke', '#f0f0f0').attr('stroke-width', 1.5);
  g.append('line').attr('x1', left).attr('x2', right).attr('y1', bottom).attr('y2', bottom).attr('stroke', '#f0f0f0').attr('stroke-width', 1.5);

  svg.append('clipPath').attr('id', 'barclip').append('rect').attr('x', 1300).attr('y', top).attr('width', 1270).attr('height', bottom - top);
  const body = g.append('g').attr('clip-path', 'url(#barclip)');
  body.selectAll('.bar').data(barCodes).enter().append('rect')
    .attr('x', left).attr('y', (d: string) => y(d)).attr('height', y.bandwidth())
    .attr('width', (_d: string, i: number) => x(barValues[i]) - left)
    .attr('fill', (_d: string, i: number) => continentColors[barContinents[i]]);
  body.selectAll('.val').data(barCodes).enter().append('text')
    .attr('x', (_d: string, i: number) => x(barValues[i]) + 8)
    .attr('y', (d: string) => (y(d) as number) + y.bandwidth() / 2).attr('dy', '0.36em')
    .text((d: string) => d).attr('font-family', FONT).attr('font-size', 23.5).attr('fill', '#333');
  const rowAxis = body.append('g').attr('transform', `translate(${left},0)`).call(d3.axisLeft(y).tickSize(0).tickPadding(13));
  rowAxis.select('.domain').remove();
  rowAxis.selectAll('text').attr('font-family', FONT).attr('font-size', 23.5).attr('fill', '#6b6b6b');

  const xAxis = g.append('g').attr('transform', `translate(0,${bottom})`)
    .call(d3.axisBottom(x).tickValues(barTicks).tickSize(0).tickPadding(22).tickFormat((d: any) => String(d)));
  xAxis.select('.domain').remove();
  xAxis.selectAll('text').attr('font-family', FONT).attr('font-size', 23).attr('fill', '#6b6b6b');
  xAxis.selectAll('.tick').filter((d: number) => d === 0).select('text').attr('dx', 6);

  addText(g, 1276, 141, 'Top Ranked Countries', 43, '#2e2e2e', 300);
  addText(g, 1310, 203, 'Iso3', 25, '#333', 500);
  sortIcon(g, 1365, 183);
  addText(g, 1997, 682, 'Hosting Validity Score', 25, '#333', 500, 'middle');
  sortIcon(g, 2130, 664);

  g.append('rect').attr('x', 2566).attr('y', top).attr('width', 31).attr('height', 377).attr('fill', '#f4f4f4');
  g.append('rect').attr('x', 2566).attr('y', top).attr('width', 31).attr('height', 52).attr('fill', '#dedede');
}

function sortIcon(g: any, x: number, y: number) {
  [[20, 5], [12, 5], [5, 5]].forEach(([w, h], i) => {
    g.append('rect').attr('x', x).attr('y', y + i * 7).attr('width', w).attr('height', h).attr('fill', '#777');
  });
}

function drawFilters(svg: any) {
  const g = svg.append('g');
  addText(g, 2618, 112, 'Continent', 25, '#333', 500);
  const rowY = d3.scalePoint<string>().domain(continents).range([143, 143 + 40 * 7]);
  continents.forEach(c => {
    const cy = rowY(c) as number;
    g.append('rect').attr('x', 2628).attr('y', cy - 13).attr('width', 26).attr('height', 26).attr('rx', 3)
      .attr('fill', '#fff').attr('stroke', '#444').attr('stroke-width', 2);
    g.append('path').attr('d', `M2634 ${cy + 1} L2639 ${cy + 8} L2648 ${cy - 9}`).attr('fill', 'none').attr('stroke', '#444').attr('stroke-width', 2);
    addText(g, 2667, cy + 8, c, 25, '#444');
  });

  // colour legend, scrolled and cut at the bottom
  addText(g, 2528, 743, 'Iso3 (Fact Host Event ...', 25, '#333', 500);
  svg.append('clipPath').attr('id', 'legclip').append('rect').attr('x', 2520).attr('y', 755).attr('width', 320).attr('height', 259);
  const leg = g.append('g').attr('clip-path', 'url(#legclip)');
  const legY = d3.scalePoint<string>().domain(legendIso).range([775, 775 + 40 * 6]);
  const color = d3.scaleOrdinal<string, string>(isoCodes, palette);
  legendIso.forEach(c => {
    const cy = legY(c) as number;
    leg.append('rect').attr('x', 2532).attr('y', cy - 14).attr('width', 28).attr('height', 28).attr('rx', 1).attr('fill', color(c));
    addText(leg, 2571, cy + 8, c, 23, '#444');
  });

  addText(g, 2527, 1057, 'Indicator Name', 25, '#333', 500);
  g.append('path').attr('d', 'M2725 1038 h16 l-6 8 v9 l-4 -3 v-6 z').attr('fill', 'none').attr('stroke', '#888').attr('stroke-width', 1.5);
  addText(g, 2735, 1062, 'x', 16, '#d1615d', 700);
  g.append('circle').attr('cx', 2767).attr('cy', 1044).attr('r', 6).attr('fill', 'none').attr('stroke', '#888').attr('stroke-width', 1.5);
  g.append('line').attr('x1', 2764).attr('y1', 1050).attr('x2', 2760).attr('y2', 1058).attr('stroke', '#888').attr('stroke-width', 2);
  g.append('path').attr('d', 'M2793 1044 h12 l-6 10 z').attr('fill', '#555');

  g.append('rect').attr('x', 2780).attr('y', 1068).attr('width', 30).attr('height', 272).attr('fill', '#f4f4f4');
  svg.append('clipPath').attr('id', 'indclip').append('rect').attr('x', 2520).attr('y', 1068).attr('width', 260).attr('height', 272);
  const ind = g.append('g').attr('clip-path', 'url(#indclip)');
  const indY = d3.scalePoint<string>().domain(indicators).range([1089, 1089 + 40 * 6]);
  indicators.forEach(c => {
    const cy = indY(c) as number;
    ind.append('rect').attr('x', 2536).attr('y', cy - 13).attr('width', 25).attr('height', 26).attr('rx', 3)
      .attr('fill', '#fff').attr('stroke', '#444').attr('stroke-width', 2);
    addText(ind, 2575, cy + 8, c, 23.5, '#444');
  });
}

const App: React.FC = () => {
  const svgRef = useRef<SVGSVGElement | null>(null);

  useEffect(() => {
    const svg = d3.select(svgRef.current);
    svg.selectAll('*').remove();

    svg.append('line').attr('x1', 94).attr('x2', 2747).attr('y1', 6).attr('y2', 6).attr('stroke', '#dcdcdc').attr('stroke-width', 2);
    svg.append('clipPath').attr('id', 'titleclip').append('rect').attr('x', 0).attr('y', 0).attr('width', 2844).attr('height', 73);
    const tg = svg.append('g').attr('clip-path', 'url(#titleclip)');
    addText(tg, 1421, 69, 'Should your Country Host a FIFA World Cup?', 50, '#5c5c5c', 600, 'middle');
    addText(svg, 31, 141, 'Host Viability Score', 44, '#2e2e2e', 300);

    drawMap(svg);
    drawBars(svg);
    drawFilters(svg);

    drawLines(svg, 'GDP by Host Country', gdpSeries, {
      left: 167, right: 1249.6, top: 945, bottom: 1226, domain: [-0.2445, 4.664], yTicks: [0, 2, 4],
      yFormat: (d: number) => `${d}T`, zeroDotted: true, labelX: 60, labelY: 1085, titleX: 31, titleY: 915, titleSize: 42,
      eventY: 1320, wcBox: [1190, 130, 32], wcText: 1217,
    });
    drawLines(svg, 'Air Passengers by Host Country', airSeries, {
      left: 1409.3, right: 2510.7, top: 804, bottom: 1229, domain: [0, 115.2], yTicks: [0, 50, 100],
      yFormat: (d: number) => `${d}M`, zeroDotted: false, labelX: 1305, labelY: 1014, titleX: 1276, titleY: 773, titleSize: 43.5,
      eventY: 1322, wcBox: [1193, 128, 28], wcText: 1219, y0Lift: 20,
    });
  }, []);

  return (
    <svg ref={svgRef} width={2844} height={1358} style={{ position: 'fixed', left: 0, top: 0, display: 'block', background: '#fff' }}></svg>
  );
};

export default App;
